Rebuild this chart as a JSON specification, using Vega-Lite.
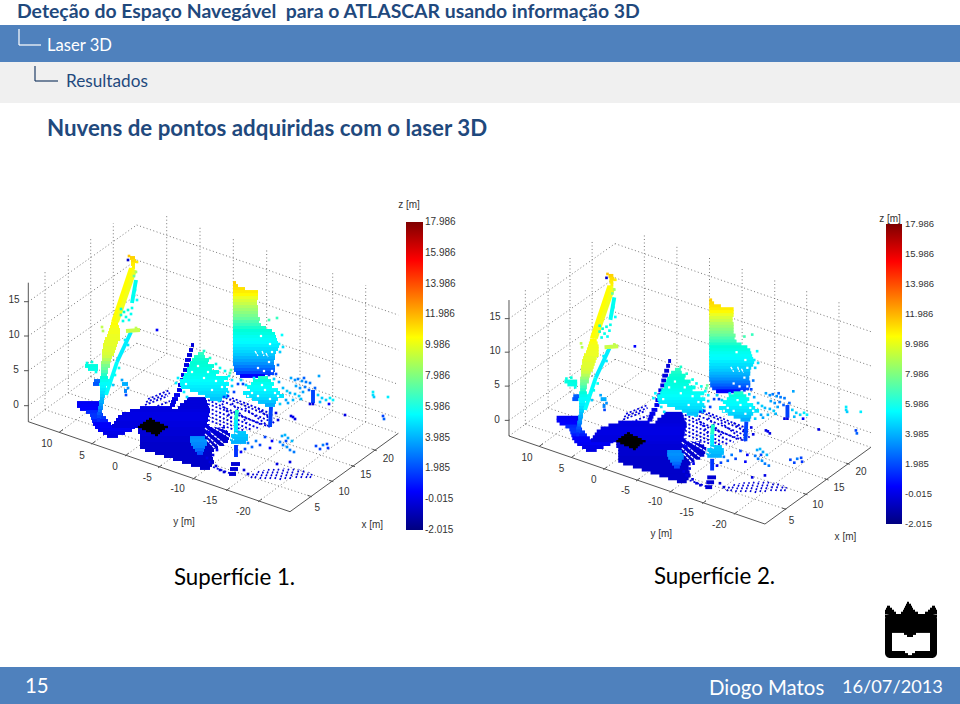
{"$schema":"https://vega.github.io/schema/vega-lite/v6.json","width":960,"height":704,"autosize":{"type":"fit","contains":"padding"},"padding":0,"background":"white","config":{"view":{"stroke":null},"text":{"font":"Lato"}},
"datasets":{
"grid":[{"x":45,"y":409.7,"x2":45,"y2":271.7},{"x":68.3,"y":393,"x2":68.3,"y2":253.3},{"x":90.7,"y":376.7,"x2":90.7,"y2":237.3},{"x":113.3,"y":360.3,"x2":113.3,"y2":223.3},{"x":166.7,"y":353.7,"x2":166.7,"y2":215.7},{"x":200,"y":365.3,"x2":200,"y2":226.7},{"x":233.3,"y":376.7,"x2":233.3,"y2":238.3},{"x":266.7,"y":388,"x2":266.7,"y2":250},{"x":300,"y":399.7,"x2":300,"y2":261.7},{"x":332.7,"y":410.7,"x2":332.7,"y2":273.3},{"x":365.7,"y":422,"x2":365.7,"y2":285},{"x":28.3,"y":405.7,"x2":136.7,"y2":328.3},{"x":28.3,"y":370.7,"x2":136.7,"y2":295},{"x":28.3,"y":336,"x2":136.7,"y2":260},{"x":28.3,"y":301.7,"x2":136.7,"y2":225},{"x":136.7,"y":225,"x2":398.3,"y2":315},{"x":136.7,"y":260,"x2":398.3,"y2":350},{"x":136.7,"y":295,"x2":398.3,"y2":384.3},{"x":136.7,"y":328.3,"x2":398.3,"y2":418.3},{"x":28.3,"y":421.7,"x2":136.7,"y2":343.3},{"x":136.7,"y":343.3,"x2":398.3,"y2":433.3},{"x":59.3,"y":432.3,"x2":166.7,"y2":353.7},{"x":91.7,"y":444,"x2":200,"y2":365.3},{"x":125,"y":456,"x2":233.3,"y2":376.7},{"x":158.3,"y":467.7,"x2":266.7,"y2":388},{"x":192.7,"y":479.3,"x2":300,"y2":399.7},{"x":226,"y":490.7,"x2":332.7,"y2":410.7},{"x":258.3,"y":501.7,"x2":365.7,"y2":422},{"x":45,"y":409.7,"x2":311.7,"y2":496.7},{"x":68.3,"y":393,"x2":333.3,"y2":481.7},{"x":90.7,"y":376.7,"x2":355,"y2":466.7},{"x":113.3,"y":360.3,"x2":376.7,"y2":450.7}],
"axis":[{"x":28.3,"y":421.7,"x2":290,"y2":511.7},{"x":290,"y":511.7,"x2":398.3,"y2":433.3},{"x":28.3,"y":421.7,"x2":28.3,"y2":282.7},{"x":28.3,"y":405.7,"x2":24,"y2":405.7},{"x":28.3,"y":370.7,"x2":24,"y2":370.7},{"x":28.3,"y":336,"x2":24,"y2":336},{"x":28.3,"y":301.7,"x2":24,"y2":301.7},{"x":59.3,"y":432.3,"x2":63,"y2":429.5},{"x":91.7,"y":444,"x2":95.4,"y2":441.2},{"x":125,"y":456,"x2":128.7,"y2":453.2},{"x":158.3,"y":467.7,"x2":162,"y2":464.9},{"x":192.7,"y":479.3,"x2":196.4,"y2":476.5},{"x":226,"y":490.7,"x2":229.7,"y2":487.9},{"x":258.3,"y":501.7,"x2":262,"y2":498.9},{"x":311.7,"y":496.7,"x2":307.5,"y2":495.3},{"x":333.3,"y":481.7,"x2":329.1,"y2":480.3},{"x":355,"y":466.7,"x2":350.8,"y2":465.3},{"x":376.7,"y":450.7,"x2":372.5,"y2":449.3}],
"labels":[{"x":14,"y":300,"t":"15"},{"x":14,"y":335,"t":"10"},{"x":16,"y":370,"t":"5"},{"x":16,"y":405,"t":"0"},{"x":46.7,"y":444.3,"t":"10"},{"x":82,"y":455.7,"t":"5"},{"x":115,"y":466.7,"t":"0"},{"x":147.3,"y":477.7,"t":"-5"},{"x":177.7,"y":489.3,"t":"-10"},{"x":210,"y":500.7,"t":"-15"},{"x":243.3,"y":512.3,"t":"-20"},{"x":317.3,"y":508.3,"t":"5"},{"x":344,"y":492.3,"t":"10"},{"x":365.7,"y":475,"t":"15"},{"x":388.3,"y":459,"t":"20"},{"x":184,"y":521.7,"t":"y [m]"},{"x":372.3,"y":525,"t":"x [m]"}],
"dash":[{"x":145,"y":405,"x2":168,"y2":396},{"x":146,"y":402,"x2":170,"y2":393},{"x":148,"y":399,"x2":170,"y2":390},{"x":150,"y":409,"x2":170,"y2":401},{"x":208,"y":400,"x2":262,"y2":425},{"x":208,"y":404,"x2":270,"y2":427},{"x":208,"y":408,"x2":258,"y2":428},{"x":208,"y":412,"x2":252,"y2":430},{"x":208,"y":416,"x2":245,"y2":431},{"x":208,"y":420,"x2":240,"y2":432},{"x":215,"y":398,"x2":272,"y2":422},{"x":222,"y":396,"x2":274,"y2":418},{"x":232,"y":398,"x2":272,"y2":414},{"x":245,"y":408,"x2":268,"y2":426},{"x":232,"y":403,"x2":247,"y2":423},{"x":220,"y":400,"x2":232,"y2":420},{"x":258,"y":408,"x2":275,"y2":424},{"x":213,"y":467,"x2":232,"y2":474}],
"scan":[{"x":77,"y":403,"x2":100,"y2":403,"z":0.3},{"x":77,"y":406,"x2":100,"y2":406,"z":0.4},{"x":80,"y":409,"x2":101,"y2":409,"z":0.5},{"x":86,"y":412,"x2":102,"y2":412,"z":0.7},{"x":90,"y":415,"x2":103,"y2":415,"z":0.8},{"x":91,"y":418,"x2":106,"y2":418,"z":0.8},{"x":92,"y":421,"x2":108,"y2":421,"z":0.6},{"x":93,"y":424,"x2":111,"y2":424,"z":0.4},{"x":95,"y":427,"x2":135,"y2":427,"z":0.4},{"x":98,"y":430,"x2":132,"y2":430,"z":0.3},{"x":103,"y":433,"x2":125,"y2":433,"z":0.1},{"x":107,"y":436,"x2":118,"y2":436,"z":0},{"x":191,"y":345,"x2":194,"y2":345,"z":-0.2},{"x":189,"y":350,"x2":193,"y2":350,"z":-0.2},{"x":187,"y":355,"x2":192,"y2":355,"z":-0.2},{"x":185,"y":360,"x2":191,"y2":360,"z":-0.1},{"x":184,"y":365,"x2":189,"y2":365,"z":0},{"x":183,"y":370,"x2":188,"y2":370,"z":0},{"x":181,"y":375,"x2":186,"y2":375,"z":0.1},{"x":180,"y":380,"x2":185,"y2":380,"z":0.2},{"x":178,"y":385,"x2":184,"y2":385,"z":0.2},{"x":177,"y":390,"x2":182,"y2":390,"z":0.2},{"x":174,"y":395,"x2":180,"y2":395,"z":0.2},{"x":172,"y":399,"x2":178,"y2":399,"z":0.1},{"x":187,"y":399,"x2":206,"y2":399,"z":-0.2},{"x":171,"y":402,"x2":176,"y2":402,"z":0},{"x":184,"y":402,"x2":207,"y2":402,"z":-0.2},{"x":170,"y":405,"x2":175,"y2":405,"z":0},{"x":180,"y":405,"x2":208,"y2":405,"z":-0.2},{"x":140,"y":408,"x2":172,"y2":408,"z":0},{"x":178,"y":408,"x2":209,"y2":408,"z":-0.2},{"x":130,"y":411,"x2":210,"y2":411,"z":-0.1},{"x":122,"y":414,"x2":209,"y2":414,"z":0},{"x":118,"y":417,"x2":208,"y2":417,"z":0},{"x":116,"y":420,"x2":208,"y2":420,"z":0},{"x":114,"y":423,"x2":207,"y2":423,"z":-0.1},{"x":112,"y":426,"x2":210,"y2":426,"z":-0.1},{"x":138,"y":429,"x2":225,"y2":429,"z":-0.2},{"x":138,"y":432,"x2":228,"y2":432,"z":-0.3},{"x":140,"y":435,"x2":230,"y2":435,"z":-0.3},{"x":140,"y":438,"x2":229,"y2":438,"z":-0.4},{"x":140,"y":441,"x2":228,"y2":441,"z":-0.4},{"x":140,"y":444,"x2":224,"y2":444,"z":-0.5},{"x":140,"y":447,"x2":218,"y2":447,"z":-0.5},{"x":145,"y":450,"x2":214,"y2":450,"z":-0.5},{"x":155,"y":453,"x2":212,"y2":453,"z":-0.5},{"x":164,"y":456,"x2":212,"y2":456,"z":-0.5},{"x":173,"y":459,"x2":213,"y2":459,"z":-0.5},{"x":182,"y":462,"x2":214,"y2":462,"z":-0.5},{"x":191,"y":465,"x2":212,"y2":465,"z":-0.5},{"x":200,"y":468,"x2":210,"y2":468,"z":-0.5},{"x":190,"y":438,"x2":205,"y2":438,"z":2.4},{"x":190,"y":441,"x2":207,"y2":441,"z":2.5},{"x":191,"y":444,"x2":207,"y2":444,"z":2.3},{"x":193,"y":447,"x2":205,"y2":447,"z":2.2},{"x":195,"y":450,"x2":204,"y2":450,"z":1.7},{"x":197,"y":453,"x2":203,"y2":453,"z":1.2},{"x":233,"y":283,"x2":236,"y2":283,"z":11.8},{"x":233,"y":286,"x2":238,"y2":286,"z":11.5},{"x":233,"y":289,"x2":245,"y2":289,"z":11.3},{"x":233,"y":292,"x2":258,"y2":292,"z":11},{"x":233,"y":295,"x2":258,"y2":295,"z":10.6},{"x":233,"y":298,"x2":258,"y2":298,"z":10.2},{"x":233,"y":301,"x2":257,"y2":301,"z":9.9},{"x":233,"y":304,"x2":257,"y2":304,"z":9.6},{"x":233,"y":307,"x2":258,"y2":307,"z":9.2},{"x":233,"y":310,"x2":258,"y2":310,"z":8.9},{"x":233,"y":313,"x2":258,"y2":313,"z":8.6},{"x":233,"y":316,"x2":258,"y2":316,"z":8.3},{"x":233,"y":319,"x2":260,"y2":319,"z":8},{"x":233,"y":322,"x2":259,"y2":322,"z":7.6},{"x":233,"y":325,"x2":261,"y2":325,"z":7.3},{"x":233,"y":328,"x2":266,"y2":328,"z":7},{"x":233,"y":331,"x2":272,"y2":331,"z":6.7},{"x":233,"y":334,"x2":275,"y2":334,"z":6.4},{"x":233,"y":337,"x2":276,"y2":337,"z":6},{"x":233,"y":340,"x2":277,"y2":340,"z":5.7},{"x":233,"y":343,"x2":278,"y2":343,"z":5.4},{"x":233,"y":346,"x2":279,"y2":346,"z":5},{"x":233,"y":349,"x2":278,"y2":349,"z":4.6},{"x":233,"y":352,"x2":276,"y2":352,"z":4.3},{"x":233,"y":355,"x2":275,"y2":355,"z":3.9},{"x":233,"y":358,"x2":275,"y2":358,"z":3.4},{"x":233,"y":361,"x2":274,"y2":361,"z":3},{"x":233,"y":364,"x2":274,"y2":364,"z":2.5},{"x":234,"y":367,"x2":275,"y2":367,"z":2},{"x":234,"y":370,"x2":275,"y2":370,"z":1.5},{"x":236,"y":373,"x2":274,"y2":373,"z":1},{"x":240,"y":376,"x2":265,"y2":376,"z":0.5},{"x":130,"y":258,"x2":135,"y2":258,"z":11.7},{"x":131,"y":261,"x2":136,"y2":261,"z":11.4},{"x":131,"y":264,"x2":135,"y2":264,"z":11},{"x":132,"y":267,"x2":135,"y2":267,"z":10.8},{"x":133,"y":268,"x2":115,"y2":322,"z":10.4},{"x":131,"y":268,"x2":113,"y2":322,"z":10.5},{"x":135,"y":270,"x2":117,"y2":322,"z":10.3},{"x":111,"y":324,"x2":118,"y2":324,"z":10.5},{"x":110,"y":327,"x2":119,"y2":327,"z":10.4},{"x":109,"y":330,"x2":120,"y2":330,"z":10.3},{"x":108,"y":333,"x2":120,"y2":333,"z":10.3},{"x":107,"y":336,"x2":120,"y2":336,"z":10.2},{"x":105,"y":339,"x2":120,"y2":339,"z":10.2},{"x":104,"y":342,"x2":118,"y2":342,"z":10.1},{"x":103,"y":345,"x2":117,"y2":345,"z":10.1},{"x":103,"y":348,"x2":116,"y2":348,"z":10},{"x":102,"y":351,"x2":115,"y2":351,"z":10},{"x":102,"y":354,"x2":114,"y2":354,"z":9.9},{"x":102,"y":357,"x2":112,"y2":357,"z":9.7},{"x":102,"y":360,"x2":111,"y2":360,"z":9.3},{"x":101,"y":363,"x2":110,"y2":363,"z":8.8},{"x":101,"y":366,"x2":110,"y2":366,"z":8.3},{"x":101,"y":369,"x2":108,"y2":369,"z":8},{"x":101,"y":372,"x2":108,"y2":372,"z":7.5},{"x":101,"y":375,"x2":107,"y2":375,"z":7.1},{"x":100,"y":378,"x2":108,"y2":378,"z":6.6},{"x":100,"y":381,"x2":110,"y2":381,"z":6.1},{"x":99,"y":384,"x2":110,"y2":384,"z":5.7},{"x":100,"y":387,"x2":106,"y2":387,"z":5.3},{"x":100,"y":390,"x2":107,"y2":390,"z":4.9},{"x":100,"y":393,"x2":106,"y2":393,"z":4.5},{"x":100,"y":396,"x2":105,"y2":396,"z":4.1},{"x":100,"y":399,"x2":104,"y2":399,"z":3.6},{"x":99,"y":402,"x2":104,"y2":402,"z":3.2},{"x":99,"y":405,"x2":103,"y2":405,"z":2.8},{"x":98,"y":408,"x2":103,"y2":408,"z":2.3},{"x":98,"y":411,"x2":102,"y2":411,"z":1.8},{"x":97,"y":414,"x2":102,"y2":414,"z":1.3},{"x":97,"y":417,"x2":101,"y2":417,"z":1},{"x":97,"y":420,"x2":100,"y2":420,"z":0.7},{"x":136,"y":280,"x2":132,"y2":303,"z":6},{"x":131,"y":332,"x2":117,"y2":362,"z":5},{"x":117,"y":362,"x2":106,"y2":395,"z":5.6},{"x":126,"y":331,"x2":140,"y2":330,"z":9.6},{"x":198,"y":354,"x2":204,"y2":354,"z":7.2},{"x":194,"y":357,"x2":205,"y2":357,"z":7},{"x":192,"y":360,"x2":209,"y2":360,"z":6.9},{"x":190,"y":363,"x2":208,"y2":363,"z":6.8},{"x":189,"y":366,"x2":214,"y2":366,"z":6.7},{"x":187,"y":369,"x2":212,"y2":369,"z":6.5},{"x":187,"y":372,"x2":219,"y2":372,"z":6.3},{"x":184,"y":375,"x2":216,"y2":375,"z":6.1},{"x":183,"y":378,"x2":228,"y2":378,"z":5.9},{"x":180,"y":381,"x2":224,"y2":381,"z":5.6},{"x":180,"y":384,"x2":229,"y2":384,"z":5.3},{"x":181,"y":387,"x2":226,"y2":387,"z":5},{"x":190,"y":390,"x2":228,"y2":390,"z":4.8},{"x":198,"y":393,"x2":226,"y2":393,"z":4.5},{"x":205,"y":396,"x2":228,"y2":396,"z":4.2},{"x":210,"y":399,"x2":222,"y2":399,"z":3.8},{"x":258,"y":378,"x2":268,"y2":378,"z":7},{"x":253,"y":381,"x2":271,"y2":381,"z":6.5},{"x":251,"y":384,"x2":274,"y2":384,"z":6},{"x":247,"y":387,"x2":272,"y2":387,"z":5.7},{"x":250,"y":390,"x2":278,"y2":390,"z":5.4},{"x":243,"y":393,"x2":280,"y2":393,"z":5},{"x":246,"y":396,"x2":284,"y2":396,"z":4.7},{"x":252,"y":399,"x2":278,"y2":399,"z":4.3},{"x":258,"y":402,"x2":276,"y2":402,"z":3.8},{"x":265,"y":405,"x2":275,"y2":405,"z":3.2},{"x":271,"y":407,"x2":270,"y2":427,"z":1},{"x":313,"y":390,"x2":313,"y2":403,"z":1},{"x":237,"y":410,"x2":236,"y2":420,"z":7},{"x":236,"y":420,"x2":236,"y2":432,"z":5},{"x":234,"y":433,"x2":246,"y2":433,"z":3.9},{"x":231,"y":436,"x2":248,"y2":436,"z":3.8},{"x":230,"y":439,"x2":248,"y2":439,"z":3.6},{"x":231,"y":442,"x2":246,"y2":442,"z":3.3},{"x":236,"y":445,"x2":236,"y2":457,"z":0.8},{"x":85,"y":366,"x2":98,"y2":366,"z":6.5},{"x":88,"y":369,"x2":98,"y2":369,"z":6.3},{"x":94,"y":381,"x2":100,"y2":381,"z":1.5},{"x":93,"y":384,"x2":99,"y2":384,"z":1.3},{"x":122,"y":384,"x2":128,"y2":384,"z":3.2},{"x":124,"y":391,"x2":127,"y2":391,"z":2.2},{"x":231,"y":464,"x2":240,"y2":464,"z":-0.3},{"x":230,"y":469,"x2":238,"y2":469,"z":-0.3},{"x":229,"y":474,"x2":236,"y2":474,"z":-0.3}],
"stripe":[{"x":251,"y":478,"x2":254,"y2":473,"z":-0.3},{"x":255,"y":478,"x2":259,"y2":471,"z":-0.3},{"x":260,"y":479,"x2":264,"y2":470,"z":-0.3},{"x":265,"y":479,"x2":269,"y2":469,"z":-0.3},{"x":270,"y":479,"x2":274,"y2":469,"z":-0.3},{"x":275,"y":479,"x2":279,"y2":468,"z":-0.3},{"x":280,"y":480,"x2":284,"y2":468,"z":-0.3},{"x":285,"y":479,"x2":289,"y2":468,"z":-0.3},{"x":290,"y":479,"x2":294,"y2":468,"z":-0.3},{"x":296,"y":478,"x2":299,"y2":469,"z":-0.3},{"x":301,"y":478,"x2":304,"y2":470,"z":-0.3},{"x":306,"y":478,"x2":309,"y2":472,"z":-0.3},{"x":310,"y":478,"x2":312,"y2":474,"z":-0.3}],
"patch":[{"x":149,"y":419,"x2":152,"y2":419},{"x":146,"y":421,"x2":155,"y2":421},{"x":143,"y":423,"x2":160,"y2":423},{"x":140,"y":425,"x2":164,"y2":425},{"x":138,"y":427,"x2":168,"y2":427},{"x":142,"y":429,"x2":165,"y2":429},{"x":146,"y":431,"x2":162,"y2":431},{"x":151,"y":433,"x2":160,"y2":433},{"x":155,"y":435,"x2":158,"y2":435}],
"rays":[{"x":205,"y":428,"x2":228,"y2":447},{"x":205,"y":434,"x2":222,"y2":449},{"x":207,"y":440,"x2":218,"y2":452},{"x":209,"y":425,"x2":234,"y2":440},{"x":212,"y":425,"x2":238,"y2":434},{"x":255,"y":351,"x2":258,"y2":356},{"x":262,"y":351,"x2":264,"y2":356},{"x":266,"y":353,"x2":268,"y2":357}],
"holes":[{"x":261,"y":336},{"x":270,"y":344},{"x":272,"y":352},{"x":269,"y":362},{"x":258,"y":368},{"x":264,"y":371},{"x":272,"y":371},{"x":262,"y":322},{"x":192,"y":372},{"x":204,"y":378},{"x":216,"y":381},{"x":222,"y":387},{"x":212,"y":390},{"x":186,"y":384},{"x":198,"y":366},{"x":208,"y":372},{"x":252,"y":393},{"x":258,"y":396},{"x":265,"y":390},{"x":275,"y":393},{"x":270,"y":399},{"x":262,"y":385},{"x":248,"y":396},{"x":278,"y":396}],
"cloud":[{"x":128,"y":260,"z":-0.5},{"x":129,"y":256,"z":12},{"x":137,"y":262,"z":11},{"x":136,"y":272,"z":9},{"x":134,"y":276,"z":8},{"x":135,"y":290,"z":6},{"x":133,"y":296,"z":6},{"x":137,"y":300,"z":5.5},{"x":121,"y":309,"z":6.5},{"x":124,"y":312,"z":6.8},{"x":128,"y":310,"z":6.5},{"x":132,"y":308,"z":6.2},{"x":121,"y":315,"z":7},{"x":126,"y":317,"z":6.3},{"x":131,"y":314,"z":6},{"x":123,"y":321,"z":6.2},{"x":129,"y":320,"z":5.8},{"x":102,"y":327,"z":9.5},{"x":103,"y":331,"z":9.3},{"x":157,"y":330,"z":0.5},{"x":136,"y":328,"z":9.5},{"x":125,"y":340,"z":5},{"x":128,"y":345,"z":4.8},{"x":122,"y":352,"z":5},{"x":119,"y":368,"z":6},{"x":115,"y":375,"z":6},{"x":113,"y":385,"z":4},{"x":87,"y":363,"z":6.4},{"x":92,"y":362,"z":6.6},{"x":96,"y":372,"z":6},{"x":126,"y":395,"z":1},{"x":128,"y":388,"z":2.5},{"x":122,"y":380,"z":3},{"x":277,"y":318,"z":7.3},{"x":269,"y":320,"z":7.5},{"x":282,"y":335,"z":5.5},{"x":279,"y":344,"z":5},{"x":283,"y":347,"z":4.5},{"x":280,"y":352,"z":4},{"x":278,"y":365,"z":2},{"x":276,"y":374,"z":1},{"x":269,"y":375,"z":0.8},{"x":204,"y":351,"z":7},{"x":210,"y":358,"z":7},{"x":216,"y":364,"z":6.5},{"x":220,"y":368,"z":6},{"x":231,"y":370,"z":8},{"x":230,"y":373,"z":7.5},{"x":225,"y":371,"z":6},{"x":229,"y":376,"z":5.5},{"x":232,"y":380,"z":5},{"x":232,"y":386,"z":4},{"x":228,"y":392,"z":4},{"x":224,"y":397,"z":1},{"x":228,"y":396,"z":0.8},{"x":234,"y":392,"z":1},{"x":238,"y":384,"z":1},{"x":241,"y":380,"z":4},{"x":243,"y":384,"z":1},{"x":219,"y":401,"z":4},{"x":178,"y":378,"z":5},{"x":176,"y":383,"z":5},{"x":184,"y":392,"z":5},{"x":187,"y":397,"z":4.5},{"x":246,"y":385,"z":4},{"x":254,"y":378,"z":5},{"x":274,"y":379,"z":4},{"x":279,"y":382,"z":3},{"x":283,"y":388,"z":3.5},{"x":287,"y":391,"z":4},{"x":290,"y":393,"z":3.5},{"x":286,"y":400,"z":3},{"x":280,"y":404,"z":4},{"x":288,"y":403,"z":3},{"x":291,"y":378,"z":3},{"x":295,"y":380,"z":2.5},{"x":298,"y":379,"z":2},{"x":302,"y":381,"z":2.5},{"x":306,"y":382,"z":2},{"x":310,"y":383,"z":2},{"x":304,"y":378,"z":1.5},{"x":319,"y":376,"z":3},{"x":296,"y":386,"z":3},{"x":300,"y":388,"z":2.5},{"x":305,"y":387,"z":2},{"x":309,"y":390,"z":1.5},{"x":315,"y":388,"z":1.5},{"x":295,"y":394,"z":3.5},{"x":299,"y":396,"z":4},{"x":303,"y":392,"z":3},{"x":293,"y":400,"z":3.5},{"x":301,"y":399,"z":3.5},{"x":318,"y":395,"z":4},{"x":322,"y":398,"z":4},{"x":326,"y":400,"z":4.2},{"x":330,"y":398,"z":5},{"x":333,"y":400,"z":5},{"x":320,"y":402,"z":3.5},{"x":313,"y":404,"z":0},{"x":310,"y":404,"z":0},{"x":329,"y":404,"z":0.5},{"x":373,"y":392,"z":5},{"x":373,"y":395,"z":4.5},{"x":374,"y":397,"z":4},{"x":388,"y":397,"z":5},{"x":383,"y":416,"z":1},{"x":384,"y":419,"z":1.5},{"x":345,"y":415,"z":0},{"x":291,"y":416,"z":0},{"x":293,"y":417,"z":0.2},{"x":295,"y":419,"z":0},{"x":282,"y":436,"z":3},{"x":285,"y":435,"z":3.5},{"x":288,"y":438,"z":3},{"x":292,"y":441,"z":3.5},{"x":280,"y":442,"z":2},{"x":283,"y":445,"z":2},{"x":287,"y":447,"z":2.5},{"x":290,"y":450,"z":2},{"x":294,"y":452,"z":2},{"x":286,"y":441,"z":1},{"x":316,"y":446,"z":1},{"x":323,"y":445,"z":2},{"x":327,"y":444,"z":1},{"x":320,"y":449,"z":1},{"x":328,"y":448,"z":0.8},{"x":248,"y":443,"z":2},{"x":252,"y":447,"z":1.5},{"x":256,"y":441,"z":2},{"x":260,"y":445,"z":1},{"x":245,"y":449,"z":1},{"x":241,"y":452,"z":0.5},{"x":265,"y":437,"z":1},{"x":272,"y":441,"z":0.5},{"x":270,"y":448,"z":0.5},{"x":207,"y":458,"z":0},{"x":210,"y":462,"z":0},{"x":216,"y":466,"z":-0.2},{"x":220,"y":470,"z":-0.2},{"x":224,"y":472,"z":-0.2},{"x":244,"y":470,"z":-0.2},{"x":248,"y":474,"z":-0.2},{"x":277,"y":464,"z":0},{"x":290,"y":462,"z":0},{"x":213,"y":455,"z":0},{"x":217,"y":450,"z":0.3},{"x":209,"y":432,"z":0.5},{"x":276,"y":413,"z":0},{"x":278,"y":420,"z":0}],
"bar":[{"z":-2.015,"z2":17.986}],
"barTicks":[{"z":17.986,"t":"17.986"},{"z":15.986,"t":"15.986"},{"z":13.986,"t":"13.986"},{"z":11.986,"t":"11.986"},{"z":9.986,"t":"9.986"},{"z":7.986,"t":"7.986"},{"z":5.986,"t":"5.986"},{"z":3.985,"t":"3.985"},{"z":1.985,"t":"1.985"},{"z":-0.015,"t":"-0.015"},{"z":-2.015,"t":"-2.015"}]
},
"resolve":{"scale":{"x":"independent","y":"independent"}},
"layer":[
{"encoding":{"x":{"field":"x","type":"quantitative","scale":{"domain":[0,960],"nice":false,"zero":false},"axis":null},"y":{"field":"y","type":"quantitative","scale":{"domain":[704,0],"nice":false,"zero":false},"axis":null}},
"layer":[
{"data":{"values":[{"x":0,"x2":960,"y":25,"y2":62},{"x":0,"x2":960,"y":667,"y2":704}]},"mark":{"type":"rect","color":"#4f81bd"},"encoding":{"x2":{"field":"x2"},"y2":{"field":"y2"}}},
{"data":{"values":[{"x":0,"x2":960,"y":62,"y2":103}]},"mark":{"type":"rect","color":"#f0f0f0"},"encoding":{"x2":{"field":"x2"},"y2":{"field":"y2"}}},
{"data":{"values":[{"x":19,"y":29,"x2":19,"y2":45},{"x":19,"y":45,"x2":41,"y2":45}]},"mark":{"type":"rule","color":"#ffffff","strokeWidth":1.2},"encoding":{"x2":{"field":"x2"},"y2":{"field":"y2"}}},
{"data":{"values":[{"x":35,"y":66,"x2":35,"y2":81},{"x":35,"y":81,"x2":58,"y2":81}]},"mark":{"type":"rule","color":"#1f3d66","strokeWidth":1.2},"encoding":{"x2":{"field":"x2"},"y2":{"field":"y2"}}},
{"data":{"values":[{"x":17,"y":12,"t":"Deteção do Espaço Navegável\u00a0 para o ATLASCAR usando informação 3D"}]},"mark":{"type":"text","align":"left","baseline":"middle","fontSize":19.4,"fontWeight":"bold","color":"#1f497d"},"encoding":{"text":{"field":"t"}}},
{"data":{"values":[{"x":47,"y":46,"t":"Laser 3D"}]},"mark":{"type":"text","align":"left","baseline":"middle","fontSize":16.6,"color":"#ffffff"},"encoding":{"text":{"field":"t"}}},
{"data":{"values":[{"x":66,"y":82,"t":"Resultados"}]},"mark":{"type":"text","align":"left","baseline":"middle","fontSize":17.2,"color":"#1f497d"},"encoding":{"text":{"field":"t"}}},
{"data":{"values":[{"x":47,"y":129,"t":"Nuvens de pontos adquiridas com o laser 3D"}]},"mark":{"type":"text","align":"left","baseline":"middle","fontSize":22.3,"fontWeight":"bold","color":"#1f497d"},"encoding":{"text":{"field":"t"}}},
{"data":{"values":[{"x":174,"y":578,"t":"Superfície 1."},{"x":654,"y":577,"t":"Superfície 2."}]},"mark":{"type":"text","align":"left","baseline":"middle","fontSize":22.3,"color":"#000000"},"encoding":{"text":{"field":"t"}}},
{"data":{"values":[{"x":25,"y":687,"t":"15"},{"x":709,"y":689,"t":"Diogo Matos"}]},"mark":{"type":"text","align":"left","baseline":"middle","fontSize":20.4,"color":"#ffffff"},"encoding":{"text":{"field":"t"}}},
{"data":{"values":[{"x":842,"y":688,"t":"16/07/2013"}]},"mark":{"type":"text","align":"left","baseline":"middle","fontSize":18.2,"color":"#ffffff"},"encoding":{"text":{"field":"t"}}},
{"data":{"values":[{"x":885,"x2":937,"y":614,"y2":658}]},"mark":{"type":"rect","color":"#000000","cornerRadius":5},"encoding":{"x2":{"field":"x2"},"y2":{"field":"y2"}}},
{"data":{"values":[{"x":907,"x2":909,"y":603,"y2":603},{"x":906,"x2":911,"y":605,"y2":605},{"x":905,"x2":912,"y":607,"y2":607},{"x":887,"x2":890,"y":607,"y2":607},{"x":932,"x2":935,"y":607,"y2":607},{"x":904,"x2":913,"y":609,"y2":609},{"x":886,"x2":892,"y":609,"y2":609},{"x":930,"x2":936,"y":609,"y2":609},{"x":903,"x2":915,"y":611,"y2":611},{"x":885,"x2":894,"y":611,"y2":611},{"x":928,"x2":937,"y":611,"y2":611},{"x":901,"x2":918,"y":613,"y2":613},{"x":885,"x2":896,"y":613,"y2":613},{"x":925,"x2":937,"y":613,"y2":613},{"x":885,"x2":937,"y":616,"y2":616}]},"mark":{"type":"rule","color":"#000000","strokeWidth":2.6},"encoding":{"x2":{"field":"x2"},"y2":{"field":"y2"}}},
{"data":{"values":[{"x":892,"x2":904,"y":634,"y2":634},{"x":916,"x2":930,"y":634,"y2":634},{"x":892,"x2":907,"y":636,"y2":636},{"x":913,"x2":930,"y":636,"y2":636},{"x":892,"x2":930,"y":638,"y2":638},{"x":892,"x2":930,"y":640,"y2":640},{"x":892,"x2":930,"y":642,"y2":642},{"x":892,"x2":930,"y":644,"y2":644},{"x":892,"x2":930,"y":646,"y2":646},{"x":892,"x2":930,"y":648,"y2":648},{"x":892,"x2":930,"y":650,"y2":650},{"x":905,"x2":915,"y":652,"y2":652},{"x":908,"x2":912,"y":654,"y2":654}]},"mark":{"type":"rule","color":"#ffffff","strokeWidth":2.2},"encoding":{"x2":{"field":"x2"},"y2":{"field":"y2"}}}
]},
{"encoding":{"x":{"field":"x","type":"quantitative","scale":{"domain":[0,960],"nice":false,"zero":false},"axis":null},"y":{"field":"y","type":"quantitative","scale":{"domain":[704,0],"nice":false,"zero":false},"axis":null}},
"layer":[
{"data":{"name":"grid"},"mark":{"type":"rule","color":"#777777","strokeWidth":1,"strokeDash":[1,2.5]},"encoding":{"x2":{"field":"x2"},"y2":{"field":"y2"}}},
{"data":{"name":"axis"},"mark":{"type":"rule","color":"#555555","strokeWidth":1},"encoding":{"x2":{"field":"x2"},"y2":{"field":"y2"}}},
{"data":{"name":"labels"},"mark":{"type":"text","font":"Liberation Sans","fontSize":10,"color":"#333333","align":"center","baseline":"middle"},"encoding":{"text":{"field":"t"}}},
{"data":{"name":"dash"},"mark":{"type":"rule","color":"#0000e0","strokeWidth":1.8,"strokeDash":[2,2]},"encoding":{"x2":{"field":"x2"},"y2":{"field":"y2"}}},
{"data":{"name":"scan"},"mark":{"type":"rule","strokeWidth":3.9},"encoding":{"x2":{"field":"x2"},"y2":{"field":"y2"},"color":{"field":"z","type":"quantitative","legend":null,"scale":{"domain":[-2.015,0.5,5.5,10.5,15.5,17.986],"range":["#00007f","#0000ff","#00ffff","#ffff00","#ff0000","#7f0000"]}}}},
{"data":{"name":"stripe"},"mark":{"type":"rule","strokeWidth":1.6,"strokeDash":[2,1]},"encoding":{"x2":{"field":"x2"},"y2":{"field":"y2"},"color":{"field":"z","type":"quantitative","legend":null}}},
{"data":{"name":"patch"},"mark":{"type":"rule","color":"#000000","strokeWidth":2.4},"encoding":{"x2":{"field":"x2"},"y2":{"field":"y2"}}},
{"data":{"name":"rays"},"mark":{"type":"rule","color":"#ffffff","strokeWidth":1.3,"strokeDash":[3,1]},"encoding":{"x2":{"field":"x2"},"y2":{"field":"y2"}}},
{"data":{"name":"holes"},"mark":{"type":"square","size":5,"color":"#ffffff","opacity":1}},
{"data":{"name":"cloud"},"mark":{"type":"square","size":7,"opacity":1},"encoding":{"color":{"field":"z","type":"quantitative","legend":null}}}
]},
{"encoding":{"x":{"field":"x","type":"quantitative","scale":{"domain":[-492.15,489.45],"nice":false,"zero":false},"axis":null},"y":{"field":"y","type":"quantitative","scale":{"domain":[695.73,-24.1],"nice":false,"zero":false},"axis":null}},
"layer":[
{"data":{"name":"grid"},"mark":{"type":"rule","color":"#777777","strokeWidth":1,"strokeDash":[1,2.5]},"encoding":{"x2":{"field":"x2"},"y2":{"field":"y2"}}},
{"data":{"name":"axis"},"mark":{"type":"rule","color":"#555555","strokeWidth":1},"encoding":{"x2":{"field":"x2"},"y2":{"field":"y2"}}},
{"data":{"name":"labels"},"mark":{"type":"text","font":"Liberation Sans","fontSize":10,"color":"#333333","align":"center","baseline":"middle"},"encoding":{"text":{"field":"t"}}},
{"data":{"name":"dash"},"mark":{"type":"rule","color":"#0000e0","strokeWidth":1.8,"strokeDash":[2,2]},"encoding":{"x2":{"field":"x2"},"y2":{"field":"y2"}}},
{"data":{"name":"scan"},"mark":{"type":"rule","strokeWidth":3.9},"encoding":{"x2":{"field":"x2"},"y2":{"field":"y2"},"color":{"field":"z","type":"quantitative","legend":null}}},
{"data":{"name":"stripe"},"mark":{"type":"rule","strokeWidth":1.6,"strokeDash":[2,1]},"encoding":{"x2":{"field":"x2"},"y2":{"field":"y2"},"color":{"field":"z","type":"quantitative","legend":null}}},
{"data":{"name":"patch"},"mark":{"type":"rule","color":"#000000","strokeWidth":2.4},"encoding":{"x2":{"field":"x2"},"y2":{"field":"y2"}}},
{"data":{"name":"rays"},"mark":{"type":"rule","color":"#ffffff","strokeWidth":1.3,"strokeDash":[3,1]},"encoding":{"x2":{"field":"x2"},"y2":{"field":"y2"}}},
{"data":{"name":"holes"},"mark":{"type":"square","size":5,"color":"#ffffff","opacity":1}},
{"data":{"name":"cloud"},"mark":{"type":"square","size":7,"opacity":1},"encoding":{"color":{"field":"z","type":"quantitative","legend":null}}}
]},
{"encoding":{"y":{"field":"z","type":"quantitative","scale":{"domain":[-13.31,32.4],"nice":false,"zero":false},"axis":null}},
"layer":[
{"data":{"name":"bar"},"mark":{"type":"rect","color":{"gradient":"linear","x1":0,"y1":1,"x2":0,"y2":0,"stops":[{"offset":0,"color":"#00007f"},{"offset":0.1257,"color":"#0000ff"},{"offset":0.3757,"color":"#00ffff"},{"offset":0.6256,"color":"#ffff00"},{"offset":0.8756,"color":"#ff0000"},{"offset":1,"color":"#7f0000"}]}},"encoding":{"x":{"datum":406,"type":"quantitative","scale":{"domain":[0,960],"nice":false,"zero":false},"axis":null},"x2":{"datum":423},"y2":{"field":"z2"}}},
{"data":{"name":"barTicks"},"mark":{"type":"text","font":"Liberation Sans","fontSize":10,"color":"#333333","align":"left","baseline":"middle"},"encoding":{"x":{"datum":425,"type":"quantitative","scale":{"domain":[0,960],"nice":false,"zero":false},"axis":null},"text":{"field":"t"}}},
{"data":{"values":[{"z":19.1,"t":"z [m]"}]},"mark":{"type":"text","font":"Liberation Sans","fontSize":10,"color":"#333333","align":"center","baseline":"middle"},"encoding":{"x":{"datum":409,"type":"quantitative","scale":{"domain":[0,960],"nice":false,"zero":false},"axis":null},"text":{"field":"t"}}}
]},
{"encoding":{"y":{"field":"z","type":"quantitative","scale":{"domain":[-14.015,32.92],"nice":false,"zero":false},"axis":null}},
"layer":[
{"data":{"name":"bar"},"mark":{"type":"rect","color":{"gradient":"linear","x1":0,"y1":1,"x2":0,"y2":0,"stops":[{"offset":0,"color":"#00007f"},{"offset":0.1257,"color":"#0000ff"},{"offset":0.3757,"color":"#00ffff"},{"offset":0.6256,"color":"#ffff00"},{"offset":0.8756,"color":"#ff0000"},{"offset":1,"color":"#7f0000"}]}},"encoding":{"x":{"datum":886,"type":"quantitative","scale":{"domain":[0,960],"nice":false,"zero":false},"axis":null},"x2":{"datum":902},"y2":{"field":"z2"}}},
{"data":{"name":"barTicks"},"mark":{"type":"text","font":"Liberation Sans","fontSize":9.5,"color":"#333333","align":"left","baseline":"middle"},"encoding":{"x":{"datum":905,"type":"quantitative","scale":{"domain":[0,960],"nice":false,"zero":false},"axis":null},"text":{"field":"t"}}},
{"data":{"values":[{"z":18.3,"t":"z [m]"}]},"mark":{"type":"text","font":"Liberation Sans","fontSize":10,"color":"#333333","align":"center","baseline":"middle"},"encoding":{"x":{"datum":890,"type":"quantitative","scale":{"domain":[0,960],"nice":false,"zero":false},"axis":null},"text":{"field":"t"}}}
]}
]}
